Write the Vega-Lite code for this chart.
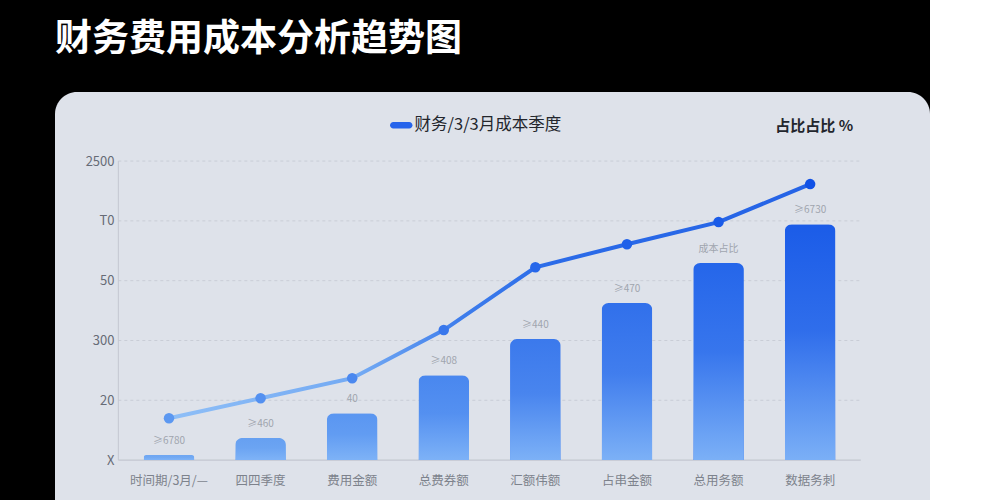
{
  "$schema": "https://vega.github.io/schema/vega-lite/v6.json",
  "description": "财务费用成本分析趋势图",
  "autosize": "none",
  "padding": {"left": 55, "top": 92, "right": 0, "bottom": 0},
  "width": 875,
  "height": 430,
  "background": "#000000",
  "title": {
    "text": "财务费用成本分析趋势图",
    "anchor": "start",
    "fontSize": 37,
    "fontWeight": "bold",
    "color": "#ffffff",
    "baseline": "alphabetic",
    "offset": 4
  },
  "view": {"fill": "#dee2ea", "stroke": null, "cornerRadius": 22},
  "data": {
    "values": [
      {"cat": "时间期/3月/—", "bar": 1.7, "line": 14.0, "label": "≥6780"},
      {"cat": "四四季度", "bar": 7.4, "line": 20.7, "label": "≥460"},
      {"cat": "费用金额", "bar": 15.7, "line": 27.4, "label": "40"},
      {"cat": "总费券额", "bar": 28.4, "line": 43.5, "label": "≥408"},
      {"cat": "汇额伟额", "bar": 40.5, "line": 64.5, "label": "≥440"},
      {"cat": "占串金额", "bar": 52.5, "line": 72.2, "label": "≥470"},
      {"cat": "总用务额", "bar": 65.9, "line": 79.6, "label": "成本占比"},
      {"cat": "数据务刺", "bar": 78.9, "line": 92.3, "label": "≥6730"}
    ]
  },
  "encoding": {
    "x": {
      "field": "cat",
      "type": "nominal",
      "sort": null,
      "title": null,
      "scale": {
        "domain": ["时间期/3月/—", "四四季度", "费用金额", "总费券额", "汇额伟额", "占串金额", "总用务额", "数据务刺"],
        "paddingInner": 0.447,
        "paddingOuter": 1.06,
        "align": 0.484
      },
      "axis": {
        "orient": "bottom",
        "offset": -62,
        "domain": false,
        "ticks": false,
        "labelAngle": 0,
        "labelPadding": 14,
        "labelFontSize": 12.5,
        "labelColor": "#7d828c"
      }
    }
  },
  "layer": [
    {
      "data": {"values": [{"g": 20}, {"g": 40}, {"g": 60}, {"g": 80}, {"g": 100}]},
      "mark": {"type": "rule", "stroke": "#c9cdd6", "strokeWidth": 1, "strokeDash": [3, 3]},
      "encoding": {
        "x": {"datum": "时间期/3月/—", "type": "nominal", "bandPosition": -0.5},
        "x2": {"datum": "数据务刺", "bandPosition": 1.5},
        "y": {"field": "g", "type": "quantitative"}
      }
    },
    {
      "data": {"values": [{"g": 0}]},
      "mark": {"type": "rule", "stroke": "#bcc0c9", "strokeWidth": 1},
      "encoding": {
        "x": {"datum": "时间期/3月/—", "type": "nominal", "bandPosition": -0.5},
        "x2": {"datum": "数据务刺", "bandPosition": 1.5},
        "y": {"field": "g", "type": "quantitative"}
      }
    },
    {
      "data": {"values": [{"a": 0, "b": 100}]},
      "mark": {"type": "rule", "stroke": "#c3c7d0", "strokeWidth": 1},
      "encoding": {
        "x": {"datum": "时间期/3月/—", "type": "nominal", "bandPosition": -0.5},
        "y": {"field": "a", "type": "quantitative"},
        "y2": {"field": "b"}
      }
    },
    {
      "mark": {"type": "bar", "cornerRadiusTopLeft": 7, "cornerRadiusTopRight": 7},
      "encoding": {
        "y": {
          "field": "bar",
          "type": "quantitative",
          "title": null,
          "scale": {"domain": [-20.7, 123.1], "nice": false, "zero": false},
          "axis": {
            "orient": "left",
            "offset": -68,
            "values": [0, 20, 40, 60, 80, 100],
            "labelExpr": "datum.value == 0 ? 'X' : datum.value == 20 ? '20' : datum.value == 40 ? '300' : datum.value == 60 ? '50' : datum.value == 80 ? 'T0' : '2500'",
            "domain": false,
            "ticks": false,
            "grid": false,
            "labelPadding": 9,
            "labelFontSize": 13,
            "labelColor": "#666b76"
          }
        },
        "fill": {
          "field": "bar",
          "type": "quantitative",
          "scale": {"domain": [1.7, 28, 78.9], "range": ["#6ea6f2", "#3b79ec", "#1b5ce8"]},
          "legend": null
        }
      }
    },
    {
      "mark": {
        "type": "bar",
        "cornerRadiusTopLeft": 7,
        "cornerRadiusTopRight": 7,
        "fill": {
          "gradient": "linear",
          "x1": 0, "y1": 0, "x2": 0, "y2": 1,
          "stops": [
            {"offset": 0, "color": "rgba(128,180,247,0)"},
            {"offset": 0.45, "color": "rgba(128,180,247,0.2)"},
            {"offset": 1, "color": "rgba(128,180,247,0.95)"}
          ]
        }
      },
      "encoding": {"y": {"field": "bar", "type": "quantitative"}}
    },
    {
      "mark": {
        "type": "line",
        "strokeWidth": 4,
        "stroke": {
          "gradient": "linear",
          "x1": 0, "y1": 0, "x2": 1, "y2": 0,
          "stops": [
            {"offset": 0, "color": "#8fbff7"},
            {"offset": 0.3, "color": "#72a9f3"},
            {"offset": 0.45, "color": "#3f7eec"},
            {"offset": 0.6, "color": "#2b6be8"},
            {"offset": 1, "color": "#2563e6"}
          ]
        }
      },
      "encoding": {"y": {"field": "line", "type": "quantitative"}}
    },
    {
      "mark": {"type": "point", "filled": true, "size": 110, "opacity": 1},
      "encoding": {
        "y": {"field": "line", "type": "quantitative"},
        "fill": {
          "field": "line",
          "type": "quantitative",
          "scale": {"domain": [14, 43.5, 64.5], "range": ["#86b8f6", "#4d8aee", "#2a6ae8"]},
          "legend": null
        }
      }
    },
    {
      "mark": {"type": "text", "baseline": "bottom", "dy": -9, "fontSize": 10, "color": "#a0a5ae"},
      "encoding": {
        "y": {"field": "bar", "type": "quantitative"},
        "text": {"field": "label"}
      }
    },
    {
      "mark": {"type": "square", "opacity": 0, "size": 1},
      "encoding": {
        "y": {"field": "bar", "type": "quantitative"},
        "color": {
          "datum": "财务/3/3月成本季度",
          "scale": {"range": ["#2563eb"]},
          "legend": {
            "title": null,
            "orient": "none",
            "legendX": 338,
            "legendY": 25,
            "symbolType": "M-1,-0.4L1,-0.4A0.4,0.4 0 0 1 1,0.4L-1,0.4A0.4,0.4 0 0 1 -1,-0.4Z",
            "symbolSize": 256,
            "symbolOpacity": 1,
            "symbolStrokeWidth": 0,
            "labelFontSize": 16.5,
            "labelColor": "#23262d",
            "labelOffset": 5,
            "labelLimit": 300
          }
        }
      }
    },
    {
      "data": {"values": [{"t": "占比占比 %", "c": "数据务刺", "v": 111.7}]},
      "mark": {"type": "text", "fontSize": 15, "fontWeight": "bold", "color": "#23262d", "dx": 4},
      "encoding": {
        "x": {"field": "c", "type": "nominal"},
        "y": {"field": "v", "type": "quantitative"},
        "text": {"field": "t"}
      }
    }
  ],
  "config": {
    "font": "Noto Sans CJK SC",
    "axis": {"labelFont": "Noto Sans CJK SC"},
    "legend": {"labelFont": "Noto Sans CJK SC"}
  }
}
